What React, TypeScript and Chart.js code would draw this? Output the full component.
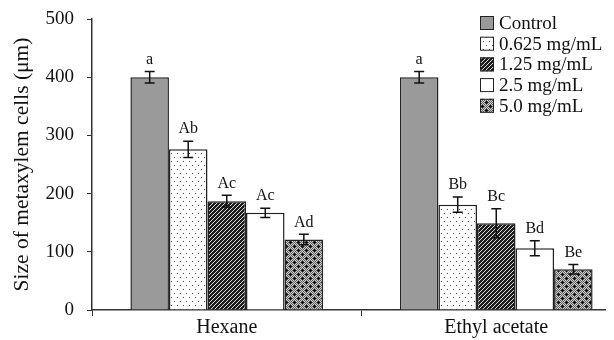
import React, { useEffect, useRef } from "react";
import { Chart, registerables } from "chart.js";

Chart.register(...registerables);

const categories = ["Hexane", "Ethyl acetate"];
const seriesLabels = ["Control", "0.625 mg/mL", "1.25 mg/mL", "2.5 mg/mL", "5.0 mg/mL"];
const controlValues = [400, 400];
const c0625Values = [276, 181];
const c125Values = [187, 149];
const c25Values = [167, 106];
const c50Values = [121, 70];
const controlErr = [10, 10];
const c0625Err = [14, 13];
const c125Err = [10, 25];
const c25Err = [8, 13];
const c50Err = [9, 8];
const controlLetters = ["a", "a"];
const c0625Letters = ["Ab", "Bb"];
const c125Letters = ["Ac", "Bc"];
const c25Letters = ["Ac", "Bd"];
const c50Letters = ["Ad", "Be"];
const yTicks = [0, 100, 200, 300, 400, 500];

const FONT = "'Liberation Serif', 'Times New Roman', serif";

function makeTile(w: number, h: number, draw: (c: CanvasRenderingContext2D) => void) {
  const cv = document.createElement("canvas");
  cv.width = w;
  cv.height = h;
  const c = cv.getContext("2d")!;
  draw(c);
  return c.createPattern(cv, "repeat")!;
}

export default function App() {
  const ref = useRef<HTMLCanvasElement>(null);
  useEffect(() => {
    document.documentElement.style.overflow = "hidden";
    const dots = makeTile(6, 8, (c) => {
      c.fillStyle = "#fff";
      c.fillRect(0, 0, 6, 8);
      c.fillStyle = "#444";
      c.fillRect(1, 1, 1, 1);
      c.fillRect(4, 5, 1, 1);
    });
    const hatch = makeTile(4, 4, (c) => {
      c.fillStyle = "#1e1e1e";
      c.fillRect(0, 0, 4, 4);
      c.strokeStyle = "#d8d8d8";
      c.lineWidth = 1;
      c.beginPath();
      c.moveTo(-1, 5);
      c.lineTo(5, -1);
      c.stroke();
    });
    const checker = makeTile(8, 8, (c) => {
      for (let y = 0; y < 8; y++)
        for (let x = 0; x < 8; x++) {
          c.fillStyle = (x + y) % 2 === 0 ? "#5e5e5e" : "#cfcfcf";
          c.fillRect(x, y, 1, 1);
        }
      c.fillStyle = "#111";
      c.fillRect(1, 2, 3, 1);
      c.fillRect(2, 1, 1, 3);
      c.fillRect(5, 6, 3, 1);
      c.fillRect(6, 5, 1, 3);
    });

    const values = [controlValues, c0625Values, c125Values, c25Values, c50Values];
    const errs = [controlErr, c0625Err, c125Err, c25Err, c50Err];
    const letters = [controlLetters, c0625Letters, c125Letters, c25Letters, c50Letters];
    const fills: any[] = ["#9a9a9a", dots, hatch, "#ffffff", checker];

    const errorPlugin = {
      id: "errbars",
      afterDatasetsDraw(chart: any) {
        const ctx = chart.ctx;
        const ys = chart.scales.y;
        ctx.save();
        ctx.strokeStyle = "#111";
        ctx.lineWidth = 1.5;
        ctx.fillStyle = "#111";
        ctx.font = `16px ${FONT}`;
        ctx.textAlign = "center";
        ctx.textBaseline = "bottom";
        values.forEach((vals, i) => {
          const meta = chart.getDatasetMeta(i);
          meta.data.forEach((el: any, j: number) => {
            const x = el.x;
            const top = ys.getPixelForValue(vals[j] + errs[i][j]);
            const bot = ys.getPixelForValue(vals[j] - errs[i][j]);
            ctx.beginPath();
            ctx.moveTo(x, top);
            ctx.lineTo(x, bot);
            ctx.moveTo(x - 5, top);
            ctx.lineTo(x + 5, top);
            ctx.moveTo(x - 5, bot);
            ctx.lineTo(x + 5, bot);
            ctx.stroke();
            ctx.fillText(letters[i][j], x, top - 4);
          });
        });
        ctx.restore();
      },
    };

    const legendPlugin = {
      id: "customLegend",
      afterDraw(chart: any) {
        const ctx = chart.ctx;
        ctx.save();
        ctx.font = `19px ${FONT}`;
        ctx.textBaseline = "middle";
        ctx.textAlign = "left";
        chart.data.datasets.forEach((ds: any, i: number) => {
          const cy = 15 + i * 20.7;
          const bx = 472;
          ctx.fillStyle = ds.backgroundColor;
          ctx.fillRect(bx, cy - 7, 14, 14);
          ctx.strokeStyle = "#222";
          ctx.lineWidth = 1;
          ctx.strokeRect(bx + 0.5, cy - 6.5, 13, 13);
          ctx.fillStyle = "#111";
          ctx.fillText(ds.label, bx + 19, cy + 1);
        });
        ctx.restore();
      },
    };

    const chart = new Chart(ref.current!, {
      type: "bar",
      data: {
        labels: categories,
        datasets: seriesLabels.map((label, i) => ({
          label,
          data: values[i],
          backgroundColor: fills[i],
          borderColor: "#222",
          borderWidth: 1.5,
          categoryPercentage: 0.715,
          barPercentage: 1,
        })),
      },
      options: {
        animation: false,
        responsive: false,
        devicePixelRatio: 1,
        layout: { padding: { top: 11, right: 9, bottom: 0, left: 0 } },
        plugins: { legend: { display: false }, tooltip: { enabled: false } },
        scales: {
          x: {
            grid: { offset: true, drawOnChartArea: false, drawTicks: true, tickLength: 6, color: "#333" },
            border: { color: "#333", width: 1.5 },
            ticks: { font: { family: FONT, size: 20 }, color: "#111", padding: 0 },
          },
          y: {
            min: 0,
            max: 500,
            afterBuildTicks: (s: any) => {
              s.ticks = yTicks.map((v) => ({ value: v }));
            },
            afterFit: (s: any) => {
              s.width = 84;
              s.paddingTop = 0;
              s.paddingBottom = 0;
            },
            grid: { drawOnChartArea: false, drawTicks: true, tickLength: 5, color: "#333" },
            border: { color: "#333", width: 1.5 },
            ticks: { font: { family: FONT, size: 19 }, color: "#111", padding: 13 },
            title: {
              display: true,
              text: "Size of metaxylem cells (μm)",
              font: { family: FONT, size: 21.5 },
              color: "#111",
              padding: { top: 1, bottom: 0 },
            },
          },
        },
      },
      plugins: [errorPlugin, legendPlugin],
    });
    return () => chart.destroy();
  }, []);

  return (
    <div style={{ width: 606, height: 332, overflow: "hidden" }}>
      <canvas ref={ref} width={632} height={332} style={{ display: "block" }} />
    </div>
  );
}
